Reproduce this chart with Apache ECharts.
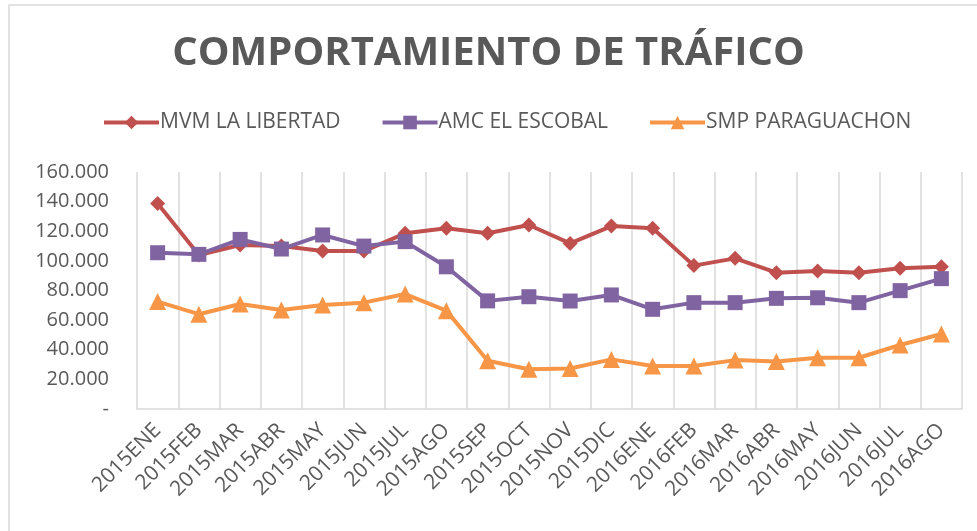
<!DOCTYPE html>
<html lang="es">
<head>
<meta charset="UTF-8">
<title>Comportamiento de tráfico</title>
<script src="https://cdn.jsdelivr.net/npm/echarts@6/dist/echarts.min.js"></script>
<style>
    html,body{margin:0;padding:0;background:#fff;overflow:hidden;}
    #chart{width:977px;height:531px;}
</style>
</head>
<body>
<div id="chart"></div>
<script>
    // meses (eje x)
    var meses=["2015ENE","2015FEB","2015MAR","2015ABR","2015MAY","2015JUN","2015JUL","2015AGO","2015SEP","2015OCT","2015NOV","2015DIC",
               "2016ENE","2016FEB","2016MAR","2016ABR","2016MAY","2016JUN","2016JUL","2016AGO"];
    var nombres=["MVM LA LIBERTAD","AMC EL ESCOBAL","SMP PARAGUACHON"];
    // valores
    var libertad=[138800,104000,110700,110000,106600,106600,118600,122000,118600,124200,111800,123500,122000,96800,101700,92000,93200,92000,95000,96000];
    var escobal=[105500,104400,114500,108000,117500,110000,113000,96000,73000,75800,72900,77000,67300,71800,71800,74700,75100,71800,79900,88000];
    var paraguachon=[72500,64000,70900,66800,70200,71800,77600,66400,32600,26800,27300,33500,29000,29000,33000,32000,34600,34600,43200,50600];
    var colores=["#C0504D","#8064A2","#F79646"];
    var simbolos=["diamond","rect","triangle"];
    var tamanos=[15,15,17];

    var texto="#595959";
    var fuente="'Open Sans', sans-serif";

    function miles(v){
        if(v===0) return "-";
        return String(v).replace(/\B(?=(\d{3})+(?!\d))/g,".");
    }

    var datos=[libertad,escobal,paraguachon];
    var series=[];
    for(var i=0;i<datos.length;i++){
        series.push({
            name:nombres[i],
            type:"line",
            data:datos[i],
            symbol:simbolos[i],
            symbolSize:tamanos[i],
            lineStyle:{width:4,color:colores[i]},
            itemStyle:{color:colores[i]},
            emphasis:{disabled:true}
        });
    }

    var chart=echarts.init(document.getElementById("chart"));
    chart.setOption({
        animation:false,
        textStyle:{fontFamily:fuente,color:texto},
        graphic:[{
            type:"rect",
            shape:{x:9,y:5,width:1000,height:600},
            style:{fill:"none",stroke:"#d9d9d9",lineWidth:1.5},
            silent:true
        }],
        title:{
            text:"COMPORTAMIENTO DE TRÁFICO",
            left:"center",
            top:29,
            textStyle:{fontFamily:fuente,fontSize:40,fontWeight:"bold",color:texto}
        },
        legend:{
            data:nombres,
            left:97,
            top:107,
            itemWidth:55,
            itemHeight:17,
            itemGap:40,
            lineStyle:{width:4},
            textStyle:{fontFamily:fuente,fontSize:21,color:texto,padding:[0,0,0,-4]}
        },
        grid:{left:137,right:15,top:172,bottom:122},
        xAxis:{
            type:"category",
            data:meses,
            boundaryGap:true,
            axisLine:{lineStyle:{color:"#d9d9d9",width:1.5}},
            axisTick:{show:false},
            splitLine:{show:true,lineStyle:{color:"#d9d9d9",width:1.5}},
            axisLabel:{rotate:45,margin:18,fontSize:21,color:texto,fontFamily:fuente,interval:0}
        },
        yAxis:{
            type:"value",
            min:0,
            max:160000,
            interval:20000,
            axisLine:{show:false},
            axisTick:{show:false},
            splitLine:{show:false},
            axisLabel:{formatter:miles,fontSize:20,color:texto,fontFamily:fuente,margin:28}
        },
        series:series
    });
</script>
</body>
</html>
